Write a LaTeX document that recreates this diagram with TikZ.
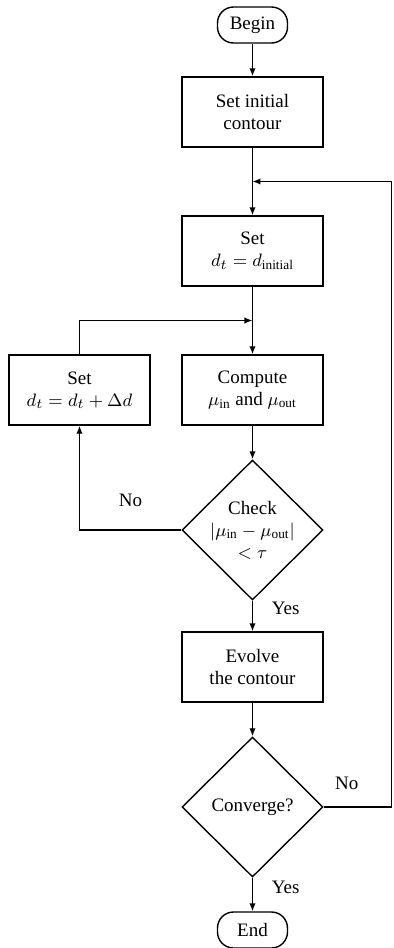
\documentclass[tikz,border=0pt]{standalone}
\usepackage{fontspec}
\setmainfont{Liberation Serif}
\usepackage{amsmath}
\usetikzlibrary{arrows.meta, positioning, shapes.geometric, calc}

\begin{document}
\begin{tikzpicture}[
    node distance=16.3pt,
    line width=0.7pt,
    box/.style={draw, minimum width=70.5pt, minimum height=35pt,
                align=center, font=\fontsize{9.5}{11}\selectfont},
    term/.style={draw, rounded corners=8pt, minimum width=35pt, minimum height=18pt,
                 font=\fontsize{9.5}{11}\selectfont},
    decision/.style={draw, diamond, minimum width=70.5pt, minimum height=70pt,
                     inner sep=0pt, align=center, font=\fontsize{9.5}{11}\selectfont},
    lbl/.style={font=\fontsize{9.5}{11}\selectfont},
    arr/.style={-{Latex[length=4pt, width=3.2pt]}}
]
    \useasboundingbox (-126.25pt,12.5pt) rectangle (70.25pt,-461.5pt);

    \node[term] (begin) {Begin};
    \node[box, below=16.3pt of begin] (init) {Set initial\\contour};
    \node[box, below=33.8pt of init] (setd) {Set\\$d_t = d_{\mathrm{initial}}$};
    \node[box, below=33.8pt of setd] (compute)
        {Compute\\$\mu_{\mathrm{in}}$ and $\mu_{\mathrm{out}}$};
    \node[box, left=15.3pt of compute] (setdd) {Set\\$d_t = d_t + \Delta d$};
    \node[decision, below=16.8pt of compute] (check) {};
    \node[lbl, align=center] (checktext) at (check)
        {Check\\$|\mu_{\mathrm{in}} - \mu_{\mathrm{out}}|$\\$< \tau$};
    \node[box, below=15.3pt of check] (evolve) {Evolve\\the contour};
    \node[decision, below=16.8pt of evolve] (conv) {Converge?};
    \node[term, below=16.8pt of conv] (end) {End};

    % junctions for the two loops
    \coordinate (j1) at ($(init.south)!0.5!(setd.north)$);
    \coordinate (j2) at ($(setd.south)!0.5!(compute.north)$);
    \coordinate (loopright) at ($(conv.east)+(34pt,0)$);

    \draw[arr] (begin) -- (init);
    \draw[arr] (init) -- (setd);
    \draw[arr] (setd) -- (compute);
    \draw[arr] (compute) -- (check);
    \draw[arr] (check) -- node[lbl, pos=0.25, right=6pt] (yescheck) {Yes} (evolve);
    \draw[arr] (evolve) -- (conv);
    \draw[arr] (conv) -- node[lbl, pos=0.3, right=6pt] (yesconv) {Yes} (end);

    \draw[arr] (check.west) -| node[lbl, pos=0.25, above=8pt] (nocheck) {No} (setdd.south);
    \draw[arr] (setdd.north) |- (j2);
    \draw[arr] (conv.east) -- node[lbl, pos=0.34, above=5pt] (noconv) {No} (loopright)
        |- (j1);
\end{tikzpicture}
\end{document}
